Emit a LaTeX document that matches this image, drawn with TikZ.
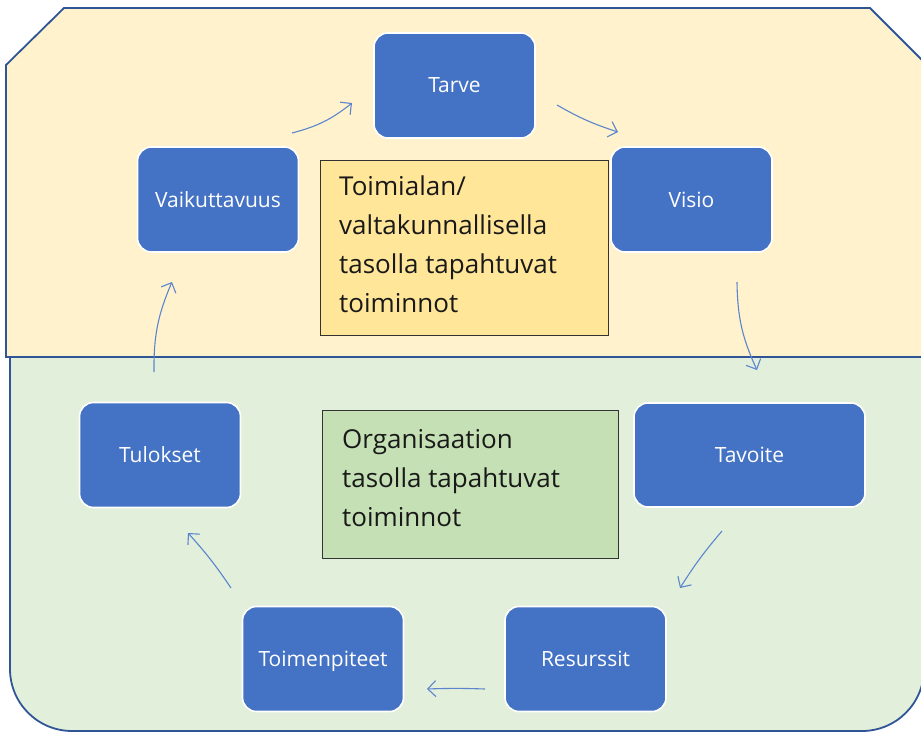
\documentclass[tikz,border=0pt]{standalone}
\usepackage{fontspec}
\setmainfont{Open Sans}
\usetikzlibrary{arrows.meta}
\definecolor{regionline}{HTML}{2F5597}
\definecolor{topfill}{HTML}{FFF2CC}
\definecolor{botfill}{HTML}{E2EFDA}
\definecolor{nodeblue}{HTML}{4472C4}
\definecolor{arrowblue}{HTML}{5B86CF}
\definecolor{yellowbox}{HTML}{FFE699}
\definecolor{greenbox}{HTML}{C5E0B4}
\tikzset{
  stepnode/.style={draw=white, line width=1.6pt, fill=nodeblue, rounded corners=14pt,
    minimum width=161pt, minimum height=105pt, text=white, font=\fontsize{21}{25}\selectfont,
    inner sep=0pt, text height=15pt, text depth=0pt},
  infobox/.style={draw=black!80, line width=0.9pt, anchor=north west, inner sep=0pt},
  boxtext/.style={anchor=north west, font=\fontsize{26}{39}\selectfont, align=left, text=black!90, inner sep=0pt},
  flow/.style={draw=arrowblue, line width=1.1pt, -{Straight Barb[length=8pt,width=16pt,line width=1.1pt]}},
}
\begin{document}
\begin{tikzpicture}[x=1pt,y=-1pt]
\useasboundingbox (0,0) rectangle (921,733);
% regions
\draw[fill=botfill, draw=regionline, line width=1.8pt, rounded corners=62pt]
  (10,357) -- (10,731) -- (924,731) -- (924,357);
\draw[fill=topfill, draw=regionline, line width=1.8pt]
  (6,357) -- (6,65) -- (64,8) -- (870,8) -- (935,73) -- (935,357) -- cycle;
% text boxes
\node[infobox, fill=yellowbox, minimum width=288pt, minimum height=175pt] (ybox) at (320,160) {};
\node[boxtext] (ytext) at (339,176)
  {Toimialan/\\valtakunnallisella\\tasolla tapahtuvat\\toiminnot};
\node[infobox, fill=greenbox, minimum width=296pt, minimum height=148pt] (gbox) at (322,410) {};
\node[boxtext] (gtext) at (342,429)
  {Organisaation\\tasolla tapahtuvat\\toiminnot};
% step nodes
\node[stepnode] (tarve) at (454.5,85.5) {Tarve};
\node[stepnode] (visio) at (691.5,199.5) {Visio};
\node[stepnode, minimum width=231pt, minimum height=104pt] (tavoite) at (749.5,455) {Tavoite};
\node[stepnode] (resurssit) at (585.5,659) {Resurssit};
\node[stepnode] (toimenpiteet) at (323,659) {Toimenpiteet};
\node[stepnode] (tulokset) at (160,455) {Tulokset};
\node[stepnode] (vaikuttavuus) at (218,199.5) {Vaikuttavuus};
% arrow end points
\coordinate (a1s) at (292,133); \coordinate (a1e) at (352,103);
\coordinate (a2s) at (557,105); \coordinate (a2e) at (618,132);
\coordinate (a3s) at (737,282); \coordinate (a3e) at (757,370);
\coordinate (a4s) at (722,531); \coordinate (a4e) at (680,588);
\coordinate (a5s) at (485,689); \coordinate (a5e) at (427,689);
\coordinate (a6s) at (231,588); \coordinate (a6e) at (188,533);
\coordinate (a7s) at (154,372); \coordinate (a7e) at (172,282);
\draw[flow] (a1s) to[bend right=12] (a1e);
\draw[flow] (a2s) to[bend right=6] (a2e);
\draw[flow] (a3s) to[bend right=12] (a3e);
\draw[flow] (a4s) to[bend right=4] (a4e);
\draw[flow] (a5s) to[bend right=2] (a5e);
\draw[flow] (a6s) to[bend right=4] (a6e);
\draw[flow] (a7s) to[bend left=12] (a7e);
\end{tikzpicture}
\end{document}
